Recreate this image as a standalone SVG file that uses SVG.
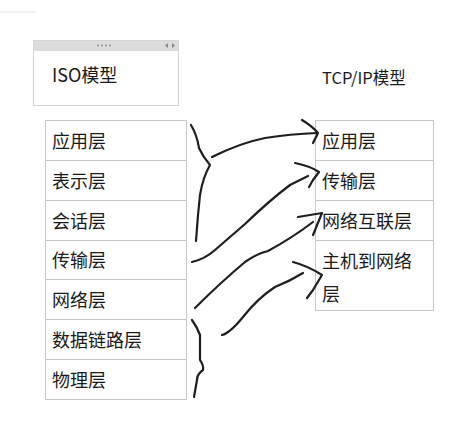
<svg xmlns="http://www.w3.org/2000/svg" width="467" height="445" viewBox="0 0 467 445">
<style>
.cell{fill:#fff;stroke:#c8c8c8;stroke-width:1}
.t{font-family:"Noto Sans CJK SC","Microsoft YaHei",sans-serif;font-size:18px;fill:#1a1a1a}
.t2{font-family:"Noto Sans CJK SC","Microsoft YaHei",sans-serif;font-size:16.5px;fill:#1a1a1a}
.ink{fill:none;stroke:#1e1e1e;stroke-width:2.2;stroke-linecap:round;stroke-linejoin:round}
</style>
<rect width="467" height="445" fill="#fff"/>
<line x1="0" y1="12" x2="36" y2="12" stroke="#e4e4e4" stroke-width="1"/>
<g id="iso-title">
<rect x="33.5" y="40.5" width="145" height="65" fill="#fff" stroke="#d4d4d4"/>
<rect x="34" y="41" width="144" height="10" fill="#dcdcdc"/>
<g fill="#8a8a8a"><circle cx="98" cy="45.5" r="0.9"/><circle cx="102" cy="45.5" r="0.9"/><circle cx="106" cy="45.5" r="0.9"/><circle cx="110" cy="45.5" r="0.9"/>
<polygon points="168,43 168,48 165,45.5"/><polygon points="172,43 172,48 175,45.5"/></g>
<text class="t" x="52" y="82">ISO模型</text>
</g>
<g id="tcpip-title"><text class="t2" x="322" y="84">TCP/IP模型</text></g>
<g id="iso-table">
<g id="iso-app"><rect class="cell" x="45.5" y="120.5" width="141" height="40"/><text class="t" x="52" y="148">应用层</text></g>
<g id="iso-pres"><rect class="cell" x="45.5" y="160.5" width="141" height="40"/><text class="t" x="52" y="188">表示层</text></g>
<g id="iso-sess"><rect class="cell" x="45.5" y="200.5" width="141" height="40"/><text class="t" x="52" y="228">会话层</text></g>
<g id="iso-trans"><rect class="cell" x="45.5" y="240.5" width="141" height="39"/><text class="t" x="52" y="267">传输层</text></g>
<g id="iso-net"><rect class="cell" x="45.5" y="279.5" width="141" height="40"/><text class="t" x="52" y="307">网络层</text></g>
<g id="iso-link"><rect class="cell" x="45.5" y="319.5" width="141" height="40"/><text class="t" x="52" y="347">数据链路层</text></g>
<g id="iso-phys"><rect class="cell" x="45.5" y="359.5" width="141" height="40"/><text class="t" x="52" y="387">物理层</text></g>
</g>
<g id="tcp-table">
<g id="tcp-app"><rect class="cell" x="315.5" y="120.5" width="118" height="40"/><text class="t" x="322" y="148">应用层</text></g>
<g id="tcp-trans"><rect class="cell" x="315.5" y="160.5" width="118" height="40"/><text class="t" x="322" y="188">传输层</text></g>
<g id="tcp-inet"><rect class="cell" x="315.5" y="200.5" width="118" height="40"/><text class="t" x="322" y="228">网络互联层</text></g>
<g id="tcp-host"><rect class="cell" x="315.5" y="240.5" width="118" height="70"/><text class="t" x="322" y="268">主机到网络</text><text class="t" x="322" y="301">层</text></g>
</g>
<g id="connectors">
<path class="ink" d="M191,125 Q197,135 199,148 Q203,157 210,165 Q203,177 200,195 L198,215 L196,241"/>
<path class="ink" d="M212,157 Q240,143 265,138 Q290,134 317,133"/>
<path class="ink" d="M302,120 Q312,126 318,133 L313,143"/>
<path class="ink" d="M192,262 Q205,259 215,250 L245,224 Q270,200 290,185 L308,176"/>
<path class="ink" d="M295,163 Q310,166 319,172 L313,180 L309,187"/>
<path class="ink" d="M195,308 Q220,283 245,262 Q256,254 268,251 Q292,238 313,222"/>
<path class="ink" d="M298,217 L322,213 L313,235"/>
<path class="ink" d="M222,335 Q230,333 243,317 Q258,298 275,287 Q290,281 303,273"/>
<path class="ink" d="M293,262 Q308,266 322,275 L313,290 L307,298"/>
<path class="ink" d="M192,320 Q197,327 200,335 L200,360 Q204,366 203,370 Q197,374 197,380 L194,397"/>
</g>
</svg>
